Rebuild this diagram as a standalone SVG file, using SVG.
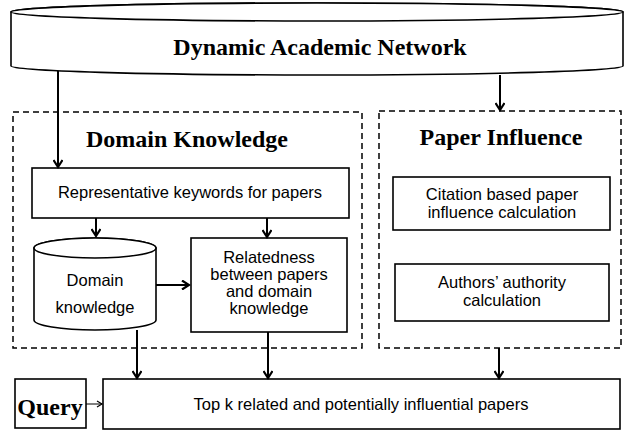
<svg xmlns="http://www.w3.org/2000/svg" width="628" height="431" viewBox="0 0 628 431">
<defs>
<marker id="arr" markerWidth="10" markerHeight="10" refX="8" refY="5" orient="auto" markerUnits="userSpaceOnUse">
<path d="M1,0.5 L8,5 L1,9.5" fill="none" stroke="#000" stroke-width="2.2"/>
</marker>
<marker id="arrs" markerWidth="8" markerHeight="8" refX="6" refY="4" orient="auto" markerUnits="userSpaceOnUse">
<path d="M1,1 L6,4 L1,7" fill="none" stroke="#000" stroke-width="1.2"/>
</marker>
<style>
.box{fill:#fff;stroke:#000;stroke-width:1.6}
.dash{fill:none;stroke:#000;stroke-width:1.5;stroke-dasharray:6,4}
.ser{font-family:"Liberation Serif","Times New Roman",serif;font-weight:bold;font-size:24px;text-anchor:middle;fill:#000}
.san{font-family:"Liberation Sans",Arial,sans-serif;font-size:16.5px;text-anchor:middle;fill:#000}
.con{fill:none;stroke:#000;stroke-width:2;marker-end:url(#arr)}
.thin{fill:none;stroke:#000;stroke-width:1;marker-end:url(#arrs)}
</style>
</defs>
<rect width="628" height="431" fill="#fff"/>
<g id="dynamic-academic-network">
<path class="box" d="M11,12 L11,66 A306,9 0 0 0 623,66 L623,12 A306,9 0 0 0 11,12 Z"/>
<ellipse class="box" cx="317" cy="12" rx="306" ry="9"/>
<text class="ser" x="320" y="55">Dynamic Academic Network</text>
</g>
<g id="domain-knowledge-group">
<rect class="dash" x="13" y="112" width="349" height="236"/>
<text class="ser" x="187" y="147">Domain Knowledge</text>
</g>
<g id="paper-influence-group">
<rect class="dash" x="379" y="111" width="242" height="237"/>
<text class="ser" x="501" y="145">Paper Influence</text>
</g>
<g id="keywords">
<rect class="box" x="32" y="168" width="317" height="50"/>
<text class="san" x="190" y="198">Representative keywords for papers</text>
</g>
<g id="domain-db">
<path class="box" d="M34,248 L34,320 A61,10 0 0 0 156,320 L156,248 A61,10 0 0 0 34,248 Z"/>
<ellipse class="box" cx="95" cy="248" rx="61" ry="10"/>
<text class="san" x="95" y="286">Domain</text>
<text class="san" x="95" y="313">knowledge</text>
</g>
<g id="relatedness">
<rect class="box" x="191" y="238" width="156" height="94"/>
<text class="san" x="269" y="263">Relatedness</text>
<text class="san" x="269" y="280">between papers</text>
<text class="san" x="269" y="297">and domain</text>
<text class="san" x="269" y="314">knowledge</text>
</g>
<g id="citation">
<rect class="box" x="393" y="177" width="217" height="53"/>
<text class="san" x="502" y="200">Citation based paper</text>
<text class="san" x="502" y="218">influence calculation</text>
</g>
<g id="authority">
<rect class="box" x="395" y="264" width="214" height="57"/>
<text class="san" x="502" y="288">Authors’ authority</text>
<text class="san" x="502" y="306">calculation</text>
</g>
<g id="query">
<rect class="box" x="15" y="379" width="71" height="49"/>
<text class="ser" x="50" y="415">Query</text>
</g>
<g id="result">
<rect class="box" x="103" y="379" width="517" height="50"/>
<text class="san" x="361" y="410">Top k related and potentially influential papers</text>
</g>
<g id="connectors">
<path class="con" d="M58,71 L58,167"/>
<path class="con" d="M500,75 L500,110"/>
<path class="con" d="M96,218 L96,236"/>
<path class="con" d="M267,218 L267,237"/>
<path class="con" d="M156,285 L189,285"/>
<path class="con" d="M137,330 L137,378"/>
<path class="con" d="M268,332 L268,378"/>
<path class="con" d="M499,348 L499,378"/>
<path class="thin" d="M86,404 L102,404"/>
</g>
</svg>
